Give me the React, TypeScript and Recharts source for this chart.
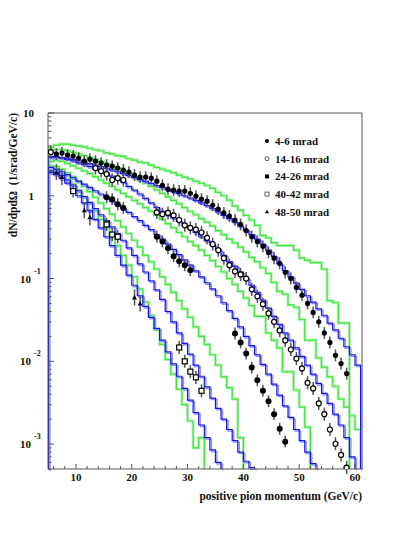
import React from "react";
import {
  ComposedChart,
  ErrorBar,
  Line,
  ReferenceLine,
  Scatter,
  XAxis,
  YAxis,
} from "recharts";

// dN/dp dΩ of positive pions vs momentum, five angular bins.
// Measured points: momentum (GeV/c) and value.
const S1_P = [
  6.5, 7.5, 8.5, 9.5, 10.5, 11.5, 12.5, 13.5, 14.5, 15.5, 16.5, 17.5, 18.5, 19.5,
  20.5, 21.5, 22.5, 23.5, 24.5, 25.5, 26.5, 27.5, 28.5, 29.5, 30.5, 31.5, 32.5,
  33.5, 34.5, 35.5, 36.5, 37.5, 38.5, 39.5, 40.5, 41.5, 42.5, 43.5, 44.5, 45.5,
  46.5, 47.5, 48.5, 49.5, 50.5, 51.5, 52.5, 53.5, 54.5, 55.5, 56.5, 57.5, 58.5,
];
const S1_V = [
  3.19, 3.28, 3.1, 3.02, 2.85, 2.62, 2.77, 2.62, 2.48, 2.35, 2.28, 2.16, 2.04, 1.93,
  1.78, 1.68, 1.68, 1.63, 1.5, 1.34, 1.2, 1.17, 1.14, 1.14, 1.07, 0.99, 0.91, 0.86,
  0.77, 0.69, 0.62, 0.57, 0.51, 0.45, 0.38, 0.32, 0.28, 0.245, 0.207, 0.176, 0.153,
  0.119, 0.1, 0.078, 0.063, 0.05, 0.039, 0.03, 0.022, 0.0169, 0.0118, 0.0094, 0.0071,
];
const S2_P = [
  5.5, 13.5, 14.5, 15.5, 16.5, 17.5, 18.5, 24.5, 25.5, 26.5, 27.5, 28.5, 29.5, 30.5,
  31.5, 32.5, 33.5, 34.5, 35.5, 36.5, 37.5, 38.5, 39.5, 40.5, 41.5, 42.5, 43.5,
  44.5, 45.5, 46.5, 47.5, 48.5, 49.5, 50.5, 51.5, 52.5, 53.5, 54.5, 55.5, 56.5,
  57.5, 58.5,
];
const S2_V = [
  3.37, 2.16, 1.99, 1.83, 1.55, 1.63, 1.55, 0.63, 0.6, 0.62, 0.58, 0.51, 0.44, 0.41,
  0.39, 0.36, 0.31, 0.26, 0.22, 0.176, 0.145, 0.122, 0.112, 0.1, 0.074, 0.061, 0.049,
  0.038, 0.03, 0.0236, 0.0179, 0.0139, 0.0108, 0.0082, 0.0055, 0.0047, 0.0031,
  0.0023, 0.0015, 0.00101, 0.00074, 0.00052,
];
const S3_P = [
  15.5, 16.5, 17.5, 18.5, 24.5, 25.5, 26.5, 27.5, 28.5, 29.5, 30.5, 38.5, 39.5,
  40.5, 41.5, 42.5, 43.5, 44.5, 45.5, 46.5, 47.5,
];
const S3_V = [
  0.96, 0.91, 0.79, 0.71, 0.32, 0.28, 0.232, 0.186, 0.162, 0.145, 0.126, 0.0217,
  0.0169, 0.0124, 0.0084, 0.0059, 0.0044, 0.0033, 0.0023, 0.00153, 0.00107,
];
const S4_P = [9.5, 15.5, 16.5, 17.5, 28.5, 29.5, 30.5, 31.5, 32.5];
const S4_V = [1.14, 0.45, 0.34, 0.32, 0.0147, 0.01, 0.0075, 0.0064, 0.0044];
const S5_P = [6.5, 7.5, 11.5, 12.5, 20.5, 21.5];
const S5_V = [1.93, 1.68, 0.67, 0.55, 0.059, 0.05];

// relative size of the error bars, per angular bin
const REL_ERR = [0.18, 0.2, 0.18, 0.2, 0.25];

// model histograms, 1 GeV/c bins starting at 5 GeV/c
const G1 = [
  3.8, 4.1, 4.2, 4.2, 4.1, 4.0, 3.9, 3.75, 3.6, 3.5, 3.3, 3.2, 3.05, 3.0, 2.8, 2.7,
  2.55, 2.5, 2.35, 2.2, 2.1, 2.0, 1.9, 1.78, 1.68, 1.6, 1.5, 1.42, 1.34, 1.23, 1.1,
  1.0, 0.885, 0.75, 0.67, 0.58, 0.51, 0.44, 0.33, 0.31, 0.27, 0.25, 0.25, 0.25, 0.22,
  0.176, 0.166, 0.156, 0.156, 0.13, 0.054, 0.051, 0.029, 0.029,
];
const B1 = [
  2.9, 2.95, 2.9, 2.85, 2.75, 2.65, 2.55, 2.45, 2.35, 2.25, 2.15, 2.05, 1.95, 1.85,
  1.75, 1.66, 1.57, 1.49, 1.41, 1.33, 1.26, 1.19, 1.12, 1.06, 1.0, 0.94, 0.88, 0.82,
  0.76, 0.7, 0.64, 0.58, 0.53, 0.48, 0.43, 0.38, 0.34, 0.3, 0.26, 0.22, 0.185, 0.15,
  0.125, 0.105, 0.088, 0.074, 0.062, 0.052, 0.043, 0.036, 0.029, 0.024, 0.019,
  0.015, 0.012, 0.009,
];
const G2 = [
  3.3, 3.6, 3.6, 3.5, 3.35, 3.2, 3.05, 2.9, 2.75, 2.6, 2.45, 2.3, 2.15, 2.0, 1.85,
  1.7, 1.55, 1.42, 1.3, 1.18, 1.07, 0.97, 0.88, 0.8, 0.72, 0.65, 0.59, 0.53, 0.48,
  0.43, 0.38, 0.34, 0.3, 0.27, 0.24, 0.21, 0.18, 0.16, 0.135, 0.115, 0.09, 0.07,
  0.065, 0.048, 0.045, 0.032, 0.018, 0.018, 0.011, 0.0085, 0.0065, 0.005, 0.0035,
  0.0028, 0.0022, 0.0015,
];
const B2 = [
  3.0, 2.95, 2.85, 2.75, 2.65, 2.5, 2.38, 2.25, 2.1, 1.97, 1.85, 1.73, 1.61, 1.47,
  1.3, 1.17, 1.05, 0.93, 0.82, 0.72, 0.65, 0.59, 0.54, 0.49, 0.44, 0.4, 0.36, 0.32,
  0.285, 0.255, 0.225, 0.19, 0.16, 0.14, 0.12, 0.1, 0.083, 0.068, 0.055, 0.044,
  0.035, 0.028, 0.022, 0.018, 0.0145, 0.0115, 0.009, 0.007, 0.0054, 0.0041, 0.0031,
  0.0023, 0.0017, 0.0012, 0.0007,
];
const G3 = [
  2.6, 2.7, 2.6, 2.45, 2.3, 2.15, 2.0, 1.85, 1.7, 1.55, 1.42, 1.3, 1.18, 1.07, 0.97,
  0.88, 0.8, 0.72, 0.65, 0.58, 0.52, 0.46, 0.41, 0.36, 0.32, 0.28, 0.25, 0.22, 0.19,
  0.165, 0.14, 0.12, 0.1, 0.085, 0.07, 0.058, 0.047, 0.035, 0.035, 0.022, 0.018,
  0.0145, 0.0075, 0.0075, 0.0045, 0.0028, 0.0016,
];
const B3 = [
  2.2, 2.1, 1.95, 1.8, 1.65, 1.5, 1.38, 1.26, 1.15, 1.05, 0.95, 0.86, 0.78, 0.7,
  0.63, 0.56, 0.5, 0.44, 0.39, 0.34, 0.3, 0.26, 0.225, 0.195, 0.168, 0.145, 0.124,
  0.105, 0.089, 0.075, 0.062, 0.051, 0.041, 0.033, 0.026, 0.02, 0.0155, 0.012,
  0.0092, 0.007, 0.0053, 0.0039, 0.0029, 0.0021, 0.0015, 0.0011, 0.0008, 0.00058,
];
const G4 = [
  2.3, 2.25, 2.1, 1.9, 1.7, 1.5, 1.3, 1.12, 0.96, 0.82, 0.7, 0.6, 0.5, 0.42, 0.35,
  0.29, 0.24, 0.19, 0.16, 0.13, 0.105, 0.085, 0.068, 0.054, 0.043, 0.034, 0.026,
  0.02, 0.016, 0.012, 0.009, 0.0065, 0.0048, 0.0035, 0.0012,
];
const B4 = [
  2.0, 1.9, 1.75, 1.55, 1.35, 1.15, 0.98, 0.83, 0.7, 0.59, 0.5, 0.42, 0.35, 0.29,
  0.235, 0.19, 0.15, 0.12, 0.094, 0.073, 0.056, 0.04, 0.03, 0.022, 0.0165, 0.0122,
  0.009, 0.0066, 0.0049, 0.0036, 0.0027, 0.002, 0.0015, 0.0011, 0.0008, 0.00062,
  0.00052,
];
const G5 = [
  2.0, 1.95, 1.8, 1.6, 1.38, 1.17, 0.98, 0.8, 0.65, 0.52, 0.41, 0.32, 0.25, 0.19,
  0.145, 0.105, 0.075, 0.052, 0.036, 0.024, 0.016, 0.0105, 0.007, 0.0046, 0.003,
  0.0019, 0.0009, 0.0012,
];
const B5 = [
  1.9, 1.8, 1.62, 1.42, 1.2, 1.0, 0.82, 0.66, 0.52, 0.41, 0.32, 0.25, 0.19, 0.145,
  0.11, 0.083, 0.062, 0.046, 0.034, 0.025, 0.018, 0.013, 0.0093, 0.0066, 0.0047,
  0.0034, 0.0024, 0.0017, 0.0012, 0.00085, 0.0006,
];

const LEGEND = ["4-6 mrad", "14-16 mrad", "24-26 mrad", "40-42 mrad", "48-50 mrad"];
const X_MAJOR = [10, 20, 30, 40, 50, 60];
const Y_MAJOR = [10, 1, 0.1, 0.01, 0.001];
const Y_BASE = ["10", "1", "10", "10", "10"];
const Y_EXP = ["", "", "-1", "-2", "-3"];

const P_MIN = 5;
const P_MAX = 61.25;
const Y_MIN = 0.0005;
const Y_MAX = 10;
const FLOOR = 1e-6; // drops a histogram out of the frame

const FONT = '"Liberation Serif", "Times New Roman", serif';
const AXIS = "#555";
const GREEN = "#3ee63e";
const GREEN_HALO = "#b8f5b8";
const BLUE = "#1414f0";
const BLUE_SHADOW = "#9090ff";

// histogram -> step points, rising from below the frame at 5 GeV/c
function steps(vals: number[]) {
  const out = [{ x: P_MIN, v: FLOOR }];
  vals.forEach((v, i) => out.push({ x: P_MIN + i, v }));
  const end = P_MIN + vals.length;
  out.push({ x: end, v: vals[vals.length - 1] });
  out.push({ x: end, v: FLOOR });
  return out;
}

function points(ps: number[], vs: number[], e: number) {
  return ps.map((x, i) => ({
    x,
    y: vs[i],
    err: [vs[i] - vs[i] / (1 + e), vs[i] * e],
  }));
}

const X_TICKS: number[] = [];
for (let p = 6; p <= 60; p += 2) X_TICKS.push(p);

const Y_TICKS: number[] = [...Y_MAJOR];
for (let d = -4; d <= 0; d++) {
  for (let m = 2; m <= 9; m++) {
    const v = m * Math.pow(10, d);
    if (v >= Y_MIN && v < Y_MAX) Y_TICKS.push(v);
  }
}

const labelStyle = {
  fontFamily: FONT,
  fontWeight: 700,
  fontSize: 11,
  fill: "#111",
};

function XTick(props: any) {
  const { x, y, payload } = props;
  const major = X_MAJOR.includes(payload.value);
  return (
    <g>
      <line x1={x} x2={x} y1={y} y2={y - (major ? 5 : 3)} stroke={AXIS} />
      {major && (
        <text x={x} y={y + 12} textAnchor="middle" {...labelStyle}>
          {payload.value}
        </text>
      )}
    </g>
  );
}

function YTick(props: any) {
  const { x, y, payload } = props;
  const idx = Y_MAJOR.indexOf(payload.value);
  if (idx < 0) {
    return <line x1={x} x2={x + 3.5} y1={y} y2={y} stroke={AXIS} />;
  }
  const exp = Y_EXP[idx];
  return (
    <g>
      <line x1={x} x2={x + 6} y1={y} y2={y} stroke={AXIS} />
      {exp ? (
        <>
          <text x={x - 17} y={y + 4} textAnchor="end" {...labelStyle}>
            {Y_BASE[idx]}
          </text>
          <text x={x - 14} y={y - 5} {...labelStyle} fontSize={8}>
            {exp}
          </text>
        </>
      ) : (
        <text x={x - 14} y={y + 4} textAnchor="end" {...labelStyle}>
          {Y_BASE[idx]}
        </text>
      )}
    </g>
  );
}

function Marker({ kind, cx, cy }: { kind: number; cx: number; cy: number }) {
  if (kind === 0) return <circle cx={cx} cy={cy} r={2.6} fill="#000" />;
  if (kind === 1)
    return <circle cx={cx} cy={cy} r={2.5} fill="#fff" stroke="#000" strokeWidth={1.2} />;
  if (kind === 2) return <circle cx={cx} cy={cy} r={3} fill="#000" />;
  if (kind === 3)
    return (
      <rect x={cx - 2.5} y={cy - 2.5} width={5} height={5} fill="#fff" stroke="#000" strokeWidth={1.2} />
    );
  return <path d={`M${cx - 2.5},${cy + 2} L${cx + 2.5},${cy + 2} L${cx},${cy - 2.5} Z`} fill="#000" />;
}

function LegendMark({ kind, cx, cy }: { kind: number; cx: number; cy: number }) {
  if (kind === 0) return <circle cx={cx} cy={cy} r={2} fill="#000" />;
  if (kind === 1) return <circle cx={cx} cy={cy} r={2} fill="#fff" stroke="#555" />;
  if (kind === 2) return <rect x={cx - 2} y={cy - 2} width={4} height={4} fill="#000" />;
  if (kind === 3) return <rect x={cx - 2} y={cy - 2} width={4} height={4} fill="#fff" stroke="#666" />;
  return <path d={`M${cx - 2},${cy + 1.5} L${cx + 2},${cy + 1.5} L${cx},${cy - 2} Z`} fill="#000" />;
}

const SERIES = [
  { pts: points(S1_P, S1_V, REL_ERR[0]), g: steps(G1), b: steps(B1) },
  { pts: points(S2_P, S2_V, REL_ERR[1]), g: steps(G2), b: steps(B2) },
  { pts: points(S3_P, S3_V, REL_ERR[2]), g: steps(G3), b: steps(B3) },
  { pts: points(S4_P, S4_V, REL_ERR[3]), g: steps(G4), b: steps(B4) },
  { pts: points(S5_P, S5_V, REL_ERR[4]), g: steps(G5), b: steps(B5) },
];

export default function App() {
  return (
    <div style={{ position: "absolute", left: 0, top: 0, width: 415, height: 537, background: "#fff" }}>
      <style>{`.blue-shadow path { transform: translate(1.5px, 1.5px); }`}</style>
      <ComposedChart
        width={415}
        height={537}
        margin={{ top: 113, right: 53, bottom: 48, left: 0 }}
      >
        <XAxis
          dataKey="x"
          type="number"
          domain={[P_MIN, P_MAX]}
          allowDataOverflow
          ticks={X_TICKS}
          interval={0}
          tick={XTick}
          tickLine={false}
          tickSize={0}
          tickMargin={0}
          height={20}
          axisLine={{ stroke: AXIS }}
        />
        <YAxis
          type="number"
          scale="log"
          domain={[Y_MIN, Y_MAX]}
          allowDataOverflow
          ticks={Y_TICKS}
          interval={0}
          tick={YTick}
          tickLine={false}
          tickSize={0}
          tickMargin={0}
          width={48}
          axisLine={{ stroke: AXIS }}
        />
        <ReferenceLine y={Y_MAX} stroke={AXIS} ifOverflow="visible" />
        <ReferenceLine x={P_MAX} stroke={AXIS} ifOverflow="visible" />

        {SERIES.map((s, i) => (
          <Line
            key={`gh${i}`}
            data={s.g}
            dataKey="v"
            type="stepAfter"
            stroke={GREEN_HALO}
            strokeWidth={3}
            dot={false}
            activeDot={false}
            isAnimationActive={false}
          />
        ))}
        {SERIES.map((s, i) => (
          <Line
            key={`g${i}`}
            data={s.g}
            dataKey="v"
            type="stepAfter"
            stroke={GREEN}
            strokeWidth={1.2}
            dot={false}
            activeDot={false}
            isAnimationActive={false}
          />
        ))}
        {SERIES.map((s, i) => (
          <Line
            key={`bs${i}`}
            className="blue-shadow"
            data={s.b}
            dataKey="v"
            type="stepAfter"
            stroke={BLUE_SHADOW}
            strokeWidth={1.4}
            dot={false}
            activeDot={false}
            isAnimationActive={false}
          />
        ))}
        {SERIES.map((s, i) => (
          <Line
            key={`b${i}`}
            data={s.b}
            dataKey="v"
            type="stepAfter"
            stroke={BLUE}
            strokeWidth={1.2}
            dot={false}
            activeDot={false}
            isAnimationActive={false}
          />
        ))}
        {SERIES.map((s, i) => (
          <Scatter
            key={`p${i}`}
            data={s.pts}
            dataKey="y"
            isAnimationActive={false}
            shape={(p: any) => <Marker kind={i} cx={p.cx} cy={p.cy} />}
          >
            <ErrorBar
              dataKey="err"
              direction="y"
              width={0}
              stroke="#555"
              strokeWidth={1.5}
              isAnimationActive={false}
            />
          </Scatter>
        ))}
      </ComposedChart>

      <svg
        width={415}
        height={537}
        style={{ position: "absolute", left: 0, top: 0, pointerEvents: "none" }}
      >
        <text
          transform="rotate(-90)"
          x={-113}
          y={17}
          textAnchor="end"
          {...labelStyle}
          fontSize={11.5}
        >
          {"dN/dpdΩ\u00a0\u00a0(1/srad/GeV/c)"}
        </text>
        <text x={362} y={500} textAnchor="end" {...labelStyle} fontSize={11.5}>
          positive pion momentum (GeV/c)
        </text>
        {LEGEND.map((name, i) => (
          <g key={name}>
            <LegendMark kind={i} cx={267} cy={141 + i * 17.7} />
            <text x={275} y={145 + i * 17.7} {...labelStyle}>
              {name}
            </text>
          </g>
        ))}
      </svg>
    </div>
  );
}
